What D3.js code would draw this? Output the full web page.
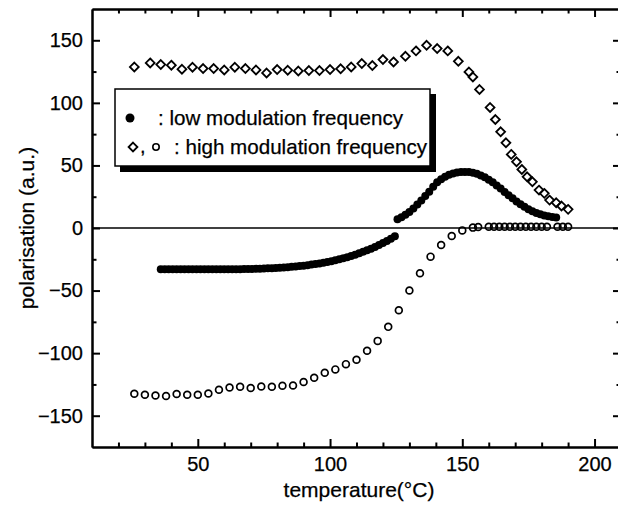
<!DOCTYPE html>
<html>
<head>
<meta charset="utf-8">
<script src="https://cdnjs.cloudflare.com/ajax/libs/d3/7.8.5/d3.min.js"></script>
<style>
  body { margin: 0; background: #fff; }
  svg { display: block; font-family: "Liberation Sans", Arial, sans-serif; }
  svg text { stroke: #000; stroke-width: 0.25; }
  .axis path, .axis line { stroke: #000; stroke-width: 2; }
  .axis text { font-size: 20px; fill: #000; }
</style>
</head>
<body>
<svg class="chart"></svg>
<script>
// high modulation frequency, diamonds
var diamondT = [26, 32, 36, 40, 44, 48, 52, 56, 60, 64, 68, 72, 76, 80, 84, 88, 92, 96, 100, 104,
  108, 112, 116, 120, 124, 128.5, 132.5, 136.5, 140.5, 144.5, 148.5, 152.5, 154, 156.5, 160.5,
  162.5, 164.5, 166.5, 168.5, 170.5, 172.5, 174.5, 176.5, 179, 181, 183, 185.5, 187.5, 190];
var diamondP = [128.7, 131.9, 130.6, 130.1, 126.9, 128.5, 127.4, 127.4, 126.3, 128.5, 127.4, 126.3,
  123.9, 126.6, 126.1, 125.5, 125.8, 125.8, 126.6, 127.2, 128.7, 131.4, 129.8, 134.6, 132.7, 137.2,
  141.5, 146.0, 143.4, 141.5, 133.2, 124.7, 120.7, 110.7, 96.3, 86.7, 76.9, 68.1, 58.8, 52.9, 46.8,
  40.9, 36.9, 30.3, 27.7, 22.3, 20.2, 17.6, 14.9];

// high modulation frequency, open circles
var circleT = [26, 30, 34, 38, 42, 46, 50, 54, 58, 62, 66, 70, 74, 78, 82, 86, 90, 94, 98, 102,
  106, 110, 114, 118, 122, 126, 130, 134, 138, 142, 146, 150, 154, 156, 160, 162, 164, 166, 168,
  170, 172, 174, 176, 178, 180, 182, 186, 188, 190];
var circleP = [-132.5, -133.2, -133.8, -134.3, -132.7, -133.2, -133.2, -132.2, -129.3, -127.4,
  -126.9, -127.9, -126.6, -126.9, -126.1, -125.8, -123.1, -119.7, -115.7, -113.0, -108.8, -105.3,
  -98.1, -90.2, -79.0, -65.7, -50.0, -36.2, -22.9, -13.6, -6.4, -1.9, 0.3, 0.8, 1, 1, 1, 1, 1,
  1, 1, 1, 1, 1, 1, 1, 1, 1, 1];

// low modulation frequency, filled circles
var lowT = [36, 37.5, 39, 40.5, 42, 43.5, 45, 46.5, 48, 49.5, 51, 52.5, 54, 55.5, 57, 58.5, 60,
  61.5, 63, 64.5, 66, 67.5, 69, 70.5, 72, 73.5, 75, 76.5, 78, 79.5, 81, 82.5, 84, 85.5, 87, 88.5,
  90, 91.5, 93, 94.5, 96, 97.5, 99, 100.5, 102, 103.5, 105, 106.5, 108, 109.5, 111, 112.5, 114,
  115.5, 117, 118.5, 120, 121.5, 123, 124.5,
  125.5, 127, 128.5, 130, 131.5, 133, 134.5, 136, 137.5, 139, 140.5, 142, 143.5, 145, 146.5, 148,
  149.5, 151, 152.5, 154, 155.5, 157, 158.5, 160, 161.5, 163, 164.5, 166, 167.5, 169, 170.5, 172,
  173.5, 175, 176.5, 178, 179.5, 181, 182.5, 184, 185.5];
var lowP = [-33, -33, -33, -33, -33, -33, -33, -33, -33, -33, -33, -33, -33, -33, -33, -33, -33,
  -33, -33, -32.9, -32.9, -32.8, -32.8, -32.7, -32.6, -32.5, -32.4, -32.2, -32.1, -31.9, -31.7,
  -31.5, -31.3, -31.0, -30.7, -30.4, -30.1, -29.7, -29.2, -28.8, -28.3, -27.7, -27.1, -26.5,
  -25.7, -25.0, -24.1, -23.3, -22.3, -21.3, -20.2, -19.0, -17.8, -16.5, -15.1, -13.6, -12.0,
  -10.3, -8.5, -6.5,
  7.0, 8.5, 10.5, 12.8, 15.5, 18.7, 22.0, 25.5, 29.0, 33.0, 36.5, 39.0, 41.0, 42.6, 43.6, 44.3,
  44.7, 44.8, 44.7, 44.2, 43.3, 42.0, 40.5, 38.5, 36.5, 34.0, 31.5, 28.8, 26.2, 23.7, 21.2, 19.0,
  17.0, 15.0, 13.4, 12.0, 10.9, 10.0, 9.3, 8.7, 8.3];

var xMajor = [50, 100, 150, 200];
var xMinor = [20, 30, 40, 60, 70, 80, 90, 110, 120, 130, 140, 160, 170, 180, 190];
var yMajor = [-150, -100, -50, 0, 50, 100, 150];
var yMinor = [-125, -75, -25, 25, 75, 125];

var margin = {top: 9, right: 0, bottom: 63, left: 92},
    width = 529,
    height = 438;

var svg = d3.select(".chart")
    .attr("width", 618)
    .attr("height", 510);

var main = svg.append("g")
    .attr("transform", "translate(" + margin.left + "," + margin.top + ")");

var x = d3.scaleLinear().domain([10, 210]).range([0, width]);
var y = d3.scaleLinear().domain([-175, 175]).range([height, 0]);

function tidy(g) {
  g.selectAll("text").attr("font-family", "Liberation Sans, Arial, sans-serif");
}

// bottom
main.append("g").attr("class", "axis")
    .attr("transform", "translate(0," + height + ")")
    .call(d3.axisBottom(x).tickValues(xMajor).tickSize(-8).tickSizeOuter(0).tickPadding(10))
    .call(tidy);
main.append("g").attr("class", "axis")
    .attr("transform", "translate(0," + height + ")")
    .call(d3.axisBottom(x).tickValues(xMinor).tickSize(-4.5).tickSizeOuter(0).tickFormat(""));
// top
main.append("g").attr("class", "axis")
    .call(d3.axisTop(x).tickValues(xMajor).tickSize(-8).tickSizeOuter(0).tickFormat(""));
main.append("g").attr("class", "axis")
    .call(d3.axisTop(x).tickValues(xMinor).tickSize(-4.5).tickSizeOuter(0).tickFormat(""));
// left
main.append("g").attr("class", "axis")
    .call(d3.axisLeft(y).tickValues(yMajor).tickSize(-8).tickSizeOuter(0).tickPadding(9))
    .call(tidy);
main.append("g").attr("class", "axis")
    .call(d3.axisLeft(y).tickValues(yMinor).tickSize(-4.5).tickSizeOuter(0).tickFormat(""));
// right
main.append("g").attr("class", "axis")
    .attr("transform", "translate(" + width + ",0)")
    .call(d3.axisRight(y).tickValues(yMajor).tickSize(-8).tickSizeOuter(0).tickFormat(""));
main.append("g").attr("class", "axis")
    .attr("transform", "translate(" + width + ",0)")
    .call(d3.axisRight(y).tickValues(yMinor).tickSize(-4.5).tickSizeOuter(0).tickFormat(""));

// zero line
main.append("line")
    .attr("x1", 0).attr("x2", width)
    .attr("y1", y(0)).attr("y2", y(0))
    .attr("stroke", "#000").attr("stroke-width", 1.6);

// axis titles
svg.append("text")
    .attr("x", 359).attr("y", 497)
    .attr("text-anchor", "middle")
    .style("font-size", "21px")
    .text("temperature(°C)");

svg.append("text")
    .attr("transform", "translate(34," + (margin.top + y(0)) + ") rotate(-90)")
    .attr("text-anchor", "middle")
    .style("font-size", "21px")
    .text("polarisation (a.u.)");

// legend
var lg = svg.append("g");
lg.append("rect").attr("x", 120).attr("y", 94).attr("width", 316).attr("height", 78).attr("fill", "#000");
lg.append("rect").attr("x", 115).attr("y", 89).attr("width", 315).attr("height", 77)
    .attr("fill", "#fff").attr("stroke", "#000").attr("stroke-width", 1.5);
lg.append("circle").attr("cx", 130).attr("cy", 118).attr("r", 4.5).attr("fill", "#000");
lg.append("text").attr("x", 158).attr("y", 125).style("font-size", "20.6px")
    .text(": low modulation frequency");
lg.append("path").attr("d", d3.symbol(d3.symbolDiamond2, 50)())
    .attr("transform", "translate(133,147)")
    .attr("fill", "none").attr("stroke", "#000").attr("stroke-width", 1.8);
lg.append("text").attr("x", 140).attr("y", 153).style("font-size", "20px").text(",");
lg.append("circle").attr("cx", 156).attr("cy", 147).attr("r", 3.2)
    .attr("fill", "none").attr("stroke", "#000").attr("stroke-width", 1.6);
lg.append("text").attr("x", 174).attr("y", 154).style("font-size", "20.6px")
    .text(": high modulation frequency");

// data
var diamonds = diamondT.map(function(t, i) { return [t, diamondP[i]]; });
var circles = circleT.map(function(t, i) { return [t, circleP[i]]; });
var low = lowT.map(function(t, i) { return [t, lowP[i]]; });

main.selectAll(".low")
    .data(low)
  .enter().append("circle")
    .attr("class", "low")
    .attr("cx", function(d) { return x(d[0]); })
    .attr("cy", function(d) { return y(d[1]); })
    .attr("r", 4)
    .attr("fill", "#000");

main.selectAll(".open")
    .data(circles)
  .enter().append("circle")
    .attr("class", "open")
    .attr("cx", function(d) { return x(d[0]); })
    .attr("cy", function(d) { return y(d[1]); })
    .attr("r", 3.4)
    .attr("fill", "none")
    .attr("stroke", "#000")
    .attr("stroke-width", 1.7);

main.selectAll(".dia")
    .data(diamonds)
  .enter().append("path")
    .attr("class", "dia")
    .attr("d", d3.symbol(d3.symbolDiamond2, 50)())
    .attr("transform", function(d) { return "translate(" + x(d[0]) + "," + y(d[1]) + ")"; })
    .attr("fill", "none")
    .attr("stroke", "#000")
    .attr("stroke-width", 1.8);
</script>
</body>
</html>
